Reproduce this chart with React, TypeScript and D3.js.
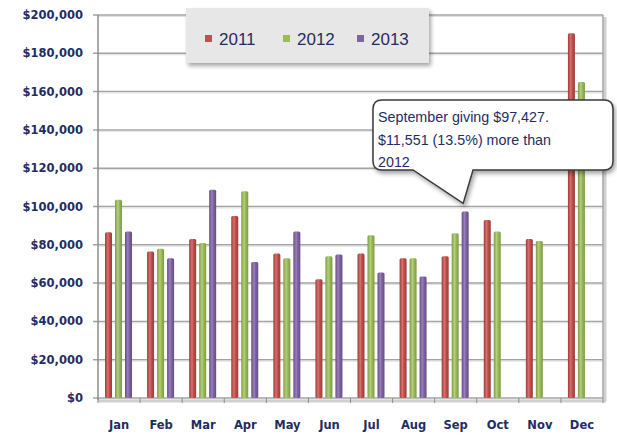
import React from "react";
import * as d3 from "d3";

const months = ["Jan", "Feb", "Mar", "Apr", "May", "Jun", "Jul", "Aug", "Sep", "Oct", "Nov", "Dec"];
const seriesNames = ["2011", "2012", "2013"];
const values2011 = [86500, 76500, 83000, 95000, 75500, 62000, 75500, 73000, 74000, 93000, 83000, 190500];
const values2012 = [103500, 78000, 81000, 108000, 73000, 74000, 85000, 73000, 86000, 87000, 82000, 165000];
const values2013: (number | null)[] = [87000, 73000, 108800, 71000, 87000, 75000, 65500, 63500, 97427, null, null, null];
const yTicks = [0, 20000, 40000, 60000, 80000, 100000, 120000, 140000, 160000, 180000, 200000];
const calloutLines = ["September giving $97,427.", "$11,551 (13.5%) more than", "2012"];

const colors = ["#c0504d", "#9bbb59", "#8064a2"];
const lightColors = ["#d8716e", "#b5d07a", "#9a80bb"];
const darkColors = ["#9a3b38", "#7d9a43", "#654d85"];

const W = 617;
const H = 435;
const left = 98;
const right = 603;
const top = 15;
const bottom = 398;
const navy = "#1f2d63";

export default function App() {
  const x = d3.scaleBand<string>().domain(months).range([left, right]).paddingInner(0).paddingOuter(0);
  const inner = d3.scaleBand<string>().domain(seriesNames).range([7, 34]).paddingInner(0.3).paddingOuter(0);
  const y = d3.scaleLinear().domain([0, 200000]).range([bottom, top]);
  const fmt = d3.format(",");
  const data = [values2011, values2012, values2013];

  // callout geometry
  const bx0 = 373, bx1 = 613, by0 = 100, by1 = 170, r = 9;
  const tipX = (x("Sep") as number) + (inner("2013") as number) + inner.bandwidth() / 2 - 2;
  const tipY = y(97427) - 8;
  const pb0 = 413, pb1 = 473;
  const calloutPath = [
    `M${bx0 + r},${by0}`,
    `L${bx1 - r},${by0}`,
    `Q${bx1},${by0} ${bx1},${by0 + r}`,
    `L${bx1},${by1 - r}`,
    `Q${bx1},${by1} ${bx1 - r},${by1}`,
    `L${pb1},${by1}`,
    `L${tipX},${tipY}`,
    `L${pb0},${by1}`,
    `L${bx0 + r},${by1}`,
    `Q${bx0},${by1} ${bx0},${by1 - r}`,
    `L${bx0},${by0 + r}`,
    `Q${bx0},${by0} ${bx0 + r},${by0}`,
    "Z",
  ].join(" ");

  return (
    <svg width={W} height={H} style={{ position: "absolute", left: 0, top: 0, background: "#fff" }}>
      <defs>
        {colors.map((c, i) => (
          <linearGradient key={i} id={`g${i}`} x1="0" x2="1" y1="0" y2="0">
            <stop offset="0%" stopColor={darkColors[i]} />
            <stop offset="40%" stopColor={lightColors[i]} />
            <stop offset="60%" stopColor={c} />
            <stop offset="100%" stopColor={darkColors[i]} />
          </linearGradient>
        ))}
        <filter id="sh" x="-10%" y="-10%" width="130%" height="140%">
          <feGaussianBlur in="SourceAlpha" stdDeviation="2" />
          <feOffset dx="2" dy="3" result="b" />
          <feComponentTransfer>
            <feFuncA type="linear" slope="0.35" />
          </feComponentTransfer>
          <feMerge>
            <feMergeNode />
            <feMergeNode in="SourceGraphic" />
          </feMerge>
        </filter>
      </defs>

      {/* plot shadow (3D wall edges) */}
      <line x1={right + 2} x2={right + 2} y1={top + 2} y2={bottom + 3} stroke="#d0d0d0" strokeWidth={3} />
      <line x1={left} x2={right + 3} y1={bottom + 3} y2={bottom + 3} stroke="#d0d0d0" strokeWidth={3} />

      {/* gridlines */}
      {yTicks.map((t) => (
        <g key={t}>
          <line x1={left - 5} x2={right} y1={y(t)} y2={y(t)} stroke="#a3a3a3" strokeWidth={1.5} />
          <line x1={left} x2={right} y1={y(t) + 1.5} y2={y(t) + 1.5} stroke="#e2e2e2" strokeWidth={1} />
        </g>
      ))}
      <line x1={left} x2={left} y1={top} y2={bottom + 2} stroke="#8c8c8c" strokeWidth={1.5} />
      <line x1={right} x2={right} y1={top} y2={bottom} stroke="#a3a3a3" strokeWidth={1.5} />

      {/* category ticks */}
      {months.map((m) => (
        <line key={m} x1={(x(m) as number)} x2={(x(m) as number)} y1={bottom} y2={bottom + 5} stroke="#8c8c8c" strokeWidth={1} />
      ))}
      <line x1={right} x2={right} y1={bottom} y2={bottom + 5} stroke="#8c8c8c" strokeWidth={1} />

      {/* bars */}
      {data.map((vals, si) =>
        vals.map((v, mi) =>
          v == null ? null : (
            <rect
              key={`${si}-${mi}`}
              x={(x(months[mi]) as number) + (inner(seriesNames[si]) as number)}
              y={y(v)}
              width={inner.bandwidth()}
              height={y(0) - y(v)}
              fill={`url(#g${si})`}
              rx={1.5}
            />
          )
        )
      )}

      {/* y labels */}
      {yTicks.map((t) => (
        <text
          key={t}
          x={83}
          y={y(t)}
          dy="0.35em"
          textAnchor="end"
          fontFamily="DejaVu Sans"
          fontWeight="bold"
          fontSize={11.5}
          fill={navy}
        >
          {"$" + fmt(t)}
        </text>
      ))}

      {/* x labels */}
      {months.map((m) => (
        <text
          key={m}
          x={(x(m) as number) + x.bandwidth() / 2}
          y={425}
          dy="0.35em"
          textAnchor="middle"
          fontFamily="DejaVu Sans"
          fontWeight="bold"
          fontSize={11.5}
          fill={navy}
        >
          {m}
        </text>
      ))}

      {/* legend */}
      <g filter="url(#sh)">
        <rect x={186} y={8} width={243} height={55} fill="#e7e7e7" />
      </g>
      {seriesNames.map((s, i) => {
        const lx = [205, 283, 357][i];
        return (
          <g key={s}>
            <rect x={lx} y={35} width={7} height={7} fill={colors[i]} />
            <text x={lx + 14} y={39} dy="0.35em" fontFamily="Liberation Sans" fontSize={17} fill={navy}>
              {s}
            </text>
          </g>
        );
      })}

      {/* callout */}
      <path d={calloutPath} fill="#fff" stroke="#3a3a3a" strokeWidth={1.5} filter="url(#sh)" />
      {calloutLines.map((l, i) => (
        <text key={i} x={378} y={122 + i * 22.5} fontFamily="Liberation Sans" fontSize={14.3} fill={navy}>
          {l}
        </text>
      ))}
    </svg>
  );
}
